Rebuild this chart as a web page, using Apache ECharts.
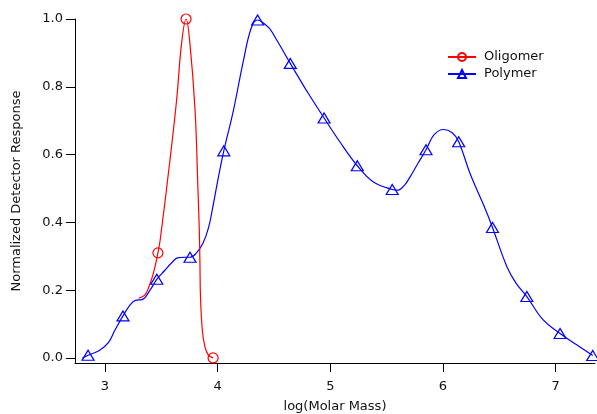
<!DOCTYPE html>
<html>
<head>
<meta charset="utf-8">
<script src="https://cdn.jsdelivr.net/npm/echarts@6/dist/echarts.min.js"></script>
<style>
  html, body { margin: 0; padding: 0; background: #fff; }
  #chart { width: 597px; height: 414px; }
</style>
</head>
<body>
<div id="chart"></div>
<script>
// Oligomer trace (log molar mass vs. normalized response)
const oligomerX = [3.30, 3.355, 3.39, 3.43, 3.47, 3.49, 3.577, 3.636, 3.68, 3.72, 3.754, 3.80, 3.825, 3.837, 3.843, 3.848, 3.864, 3.887, 3.917, 3.96];
const oligomerY = [0.176, 0.186, 0.21, 0.25, 0.31, 0.348, 0.584, 0.761, 0.928, 1.0, 0.928, 0.73, 0.50, 0.38, 0.28, 0.18, 0.083, 0.033, 0.009, 0.0];
// samples of the oligomer trace that carry a marker
const oligomerMarkerX = [3.47, 3.72, 3.96];

// Polymer trace
const polymerX = [2.80, 2.85, 2.95, 3.03, 3.09, 3.16, 3.22, 3.27, 3.33, 3.40, 3.46, 3.53, 3.59, 3.65, 3.71, 3.755, 3.81, 3.87, 3.92, 3.96, 4.005, 4.055, 4.14, 4.23, 4.30, 4.355, 4.40, 4.46, 4.53, 4.645, 4.70, 4.80, 4.945, 5.08, 5.24, 5.38, 5.55, 5.60, 5.66, 5.71, 5.78, 5.85, 5.92, 6.005, 6.08, 6.14, 6.24, 6.375, 6.44, 6.567, 6.65, 6.745, 6.89, 7.04, 7.18, 7.33];
const polymerY = [0.0, 0.008, 0.022, 0.045, 0.083, 0.124, 0.155, 0.170, 0.172, 0.200, 0.232, 0.258, 0.280, 0.296, 0.297, 0.297, 0.309, 0.338, 0.385, 0.45, 0.53, 0.611, 0.73, 0.879, 0.975, 0.997, 0.99, 0.972, 0.935, 0.869, 0.838, 0.783, 0.708, 0.64, 0.567, 0.52, 0.497, 0.495, 0.51, 0.535, 0.575, 0.614, 0.658, 0.674, 0.665, 0.638, 0.545, 0.44, 0.385, 0.27, 0.22, 0.181, 0.112, 0.072, 0.04, 0.007];
const polymerMarkerX = [2.85, 3.16, 3.46, 3.755, 4.055, 4.355, 4.645, 4.945, 5.24, 5.55, 5.85, 6.14, 6.44, 6.745, 7.04, 7.33];

// Axis ticks
const xTicks = [3, 4, 5, 6, 7];
const yTicks = [0.0, 0.2, 0.4, 0.6, 0.8, 1.0];

const FONT = 'DejaVu Sans';

// Build line data; only marker samples get a visible symbol
function buildData(xs, ys, markers) {
  return xs.map(function (x, i) {
    const item = { value: [x, ys[i]] };
    if (markers.indexOf(x) < 0) item.symbol = 'none';
    return item;
  });
}

function traceSeries(name, color, symbol, symbolSize, xs, ys, markers) {
  return {
    name: name,
    type: 'line',
    data: buildData(xs, ys, markers),
    smooth: 0.4,
    symbol: symbol,
    symbolSize: symbolSize,
    showAllSymbol: true,
    color: color,
    lineStyle: { color: color, width: 1.2 },
    itemStyle: { color: 'rgba(255,255,255,0)', borderColor: color, borderWidth: 1.2 },
    emphasis: { disabled: true }
  };
}

const chart = echarts.init(document.getElementById('chart'), null, { renderer: 'canvas' });

chart.setOption({
  animation: false,
  backgroundColor: '#fff',
  grid: { left: 75, right: 2, top: 19, bottom: 51, containLabel: false, outerBoundsMode: 'none' },
  legend: {
    data: ['Oligomer', 'Polymer'],
    orient: 'vertical',
    left: 447,
    top: 50,
    padding: 0,
    itemWidth: 28,
    itemHeight: 10,
    itemGap: 3,
    textStyle: { fontFamily: FONT, fontSize: 13, color: '#111', lineHeight: 14, padding: [0, 0, 0, 3] }
  },
  xAxis: {
    type: 'value',
    min: 2.734,
    max: 7.35,
    name: 'log(Molar Mass)',
    nameLocation: 'middle',
    nameGap: 37,
    nameTextStyle: { fontFamily: FONT, fontSize: 13, color: '#111' },
    axisLine: { show: true, onZero: false, lineStyle: { color: '#000', width: 1 } },
    axisTick: { show: true, length: 9, customValues: xTicks, lineStyle: { color: '#000' } },
    axisLabel: { customValues: xTicks, margin: 17, fontFamily: FONT, fontSize: 13, color: '#111' },
    splitLine: { show: false }
  },
  yAxis: {
    type: 'value',
    min: -0.015,
    max: 1.0,
    name: 'Normalized Detector Response',
    nameLocation: 'middle',
    nameGap: 52,
    nameTextStyle: { fontFamily: FONT, fontSize: 13, color: '#111' },
    axisLine: { show: true, onZero: false, lineStyle: { color: '#000', width: 1 } },
    axisTick: { show: true, length: 9, customValues: yTicks, lineStyle: { color: '#000' } },
    axisLabel: {
      customValues: yTicks, margin: 12, fontFamily: FONT, fontSize: 13, color: '#111',
      formatter: function (v) { return v.toFixed(1); }
    },
    splitLine: { show: false }
  },
  series: [
    traceSeries('Polymer', '#0000ff', 'triangle', [12, 10], polymerX, polymerY, polymerMarkerX),
    traceSeries('Oligomer', '#ff0000', 'circle', 10, oligomerX, oligomerY, oligomerMarkerX)
  ]
});
</script>
</body>
</html>
